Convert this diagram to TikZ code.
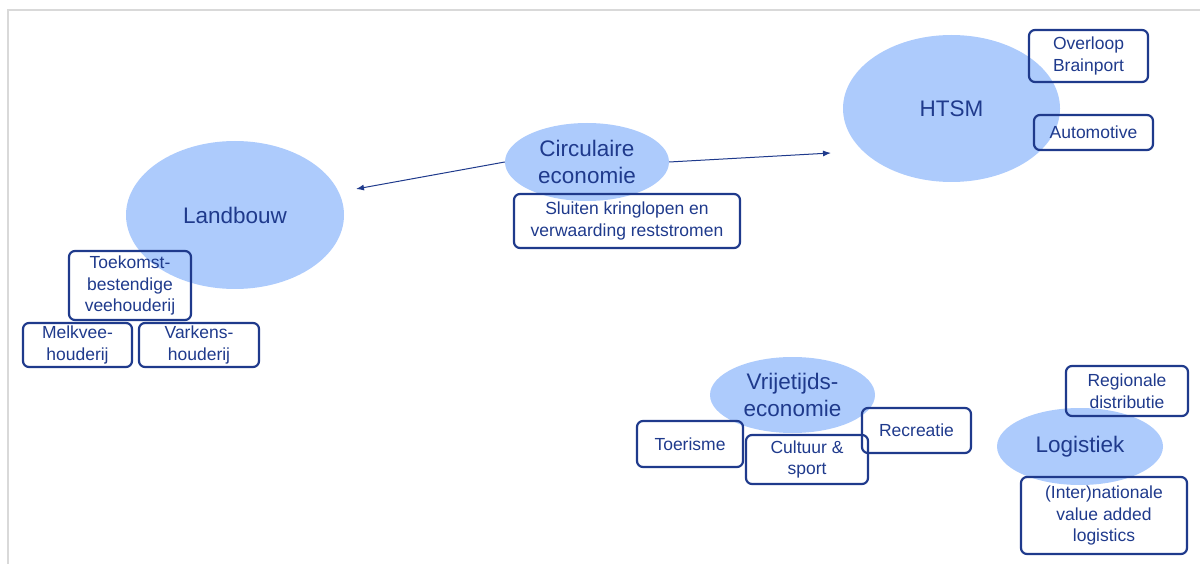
\documentclass[tikz,border=0pt]{standalone}
\usepackage{fontspec}
\setmainfont{Liberation Sans}
\usetikzlibrary{shapes.geometric,arrows.meta}
\definecolor{dblue}{RGB}{31,58,140}
\definecolor{lblue}{RGB}{173,203,252}
\definecolor{framegray}{RGB}{217,217,217}
\tikzset{
  blob/.style={ellipse, fill=lblue, draw=none, inner sep=0pt, align=center, text=dblue,
    font=\fontsize{22.5}{27}\selectfont},
  tag/.style={rectangle, rounded corners=6pt, draw=dblue, line width=2.2pt, inner sep=0pt,
    align=center, text=dblue, font=\fontsize{17.5}{21.5}\selectfont},
  arr/.style={draw=dblue, line width=1pt, -{Latex[length=8pt,width=6pt]}}
}
\begin{document}
\begin{tikzpicture}[x=1pt,y=-1pt]
\useasboundingbox (0,0) rectangle (1200,564);
\draw[framegray, line width=2pt] (8,564) -- (8,10) -- (1200,10);
% ellipses
\node[blob, minimum width=218pt, minimum height=148pt] (land) at (235,215) {Landbouw};
\node[blob, minimum width=164pt, minimum height=78pt] (circ) at (587,162) {Circulaire\\economie};
\node[blob, minimum width=217pt, minimum height=147pt] (htsm) at (951.5,108.5) {HTSM};
\node[blob, minimum width=165pt, minimum height=76pt] (vrij) at (792.5,395) {Vrijetijds-\\economie};
\node[blob, minimum width=166pt, minimum height=77pt] (logi) at (1080,446.5) {Logistiek};
% boxes
\node[tag, minimum width=226pt, minimum height=54pt] (sluit) at (627,221) {Sluiten kringlopen en\\verwaarding reststromen};
\node[tag, minimum width=122pt, minimum height=69pt] (toek) at (130,285.5) {Toekomst-\\bestendige\\veehouderij};
\node[tag, minimum width=109pt, minimum height=44pt] (melk) at (77.5,345) {Melkvee-\\houderij};
\node[tag, minimum width=120pt, minimum height=44pt] (vark) at (199,345) {Varkens-\\houderij};
\node[tag, minimum width=119pt, minimum height=52pt] (over) at (1088.5,56) {Overloop\\Brainport};
\node[tag, minimum width=119pt, minimum height=35pt] (auto) at (1093.5,132.5) {Automotive};
\node[tag, minimum width=106pt, minimum height=46pt] (toer) at (690,444) {Toerisme};
\node[tag, minimum width=122pt, minimum height=49pt] (cult) at (807,459.5) {Cultuur \&\\sport};
\node[tag, minimum width=109pt, minimum height=45pt] (recr) at (916.5,430.5) {Recreatie};
\node[tag, minimum width=122pt, minimum height=50pt] (regi) at (1127,391) {Regionale\\distributie};
\node[tag, minimum width=166pt, minimum height=77pt] (inter) at (1104,515.5) {(Inter)nationale\\value added\\logistics};
% arrows
\coordinate (toLand) at (356,189);
\coordinate (toHtsm) at (831,153);
\draw[arr] (circ.west) -- (toLand);
\draw[arr] (circ.east) -- (toHtsm);
\end{tikzpicture}
\end{document}
